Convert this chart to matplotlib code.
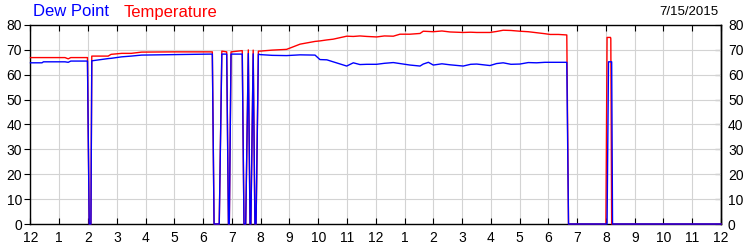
import matplotlib
matplotlib.use("Agg")
import matplotlib.pyplot as plt

plt.rcParams['font.family'] = ['Liberation Sans', 'DejaVu Sans']

# hours since midnight
hours = [0.0, 0.40, 0.45, 1.20, 1.31, 1.40, 1.98, 2.04, 2.10, 2.13, 2.70, 2.80, 3.17, 3.50,
         3.86, 5.00, 6.24, 6.32, 6.38, 6.56, 6.65, 6.82, 6.88, 6.91, 6.97, 7.36, 7.42, 7.48,
         7.57, 7.63, 7.66, 7.74, 7.80, 7.84, 7.92, 7.98, 8.40, 8.90, 9.37, 9.89, 10.06, 10.30,
         10.52, 10.99, 11.22, 11.45, 11.69, 12.03, 12.30, 12.61, 12.84, 13.19, 13.54, 13.65,
         13.83, 14.00, 14.30, 14.58, 15.04, 15.30, 15.51, 15.97, 16.20, 16.43, 16.70, 17.01,
         17.30, 17.59, 17.88, 18.06, 18.35, 18.64, 18.70, 20.00, 20.04, 20.09, 20.16, 20.17,
         20.20, 20.23, 24.0]
temperature = [66.9, 66.9, 66.9, 66.9, 66.4, 66.9, 66.9, 0, 0, 67.5, 67.5, 68.2, 68.6, 68.6,
               69.1, 69.2, 69.2, 69.2, 0, 0, 69.5, 69.2, 0, 0, 69.2, 69.7, 0, 0,
               70.0, 0, 0, 69.9, 0, 0, 69.5, 69.5, 69.9, 70.2, 72.3, 73.4, 73.6, 74.0,
               74.3, 75.5, 75.4, 75.6, 75.4, 75.2, 75.6, 75.5, 76.3, 76.3, 76.6, 77.5,
               77.4, 77.3, 77.6, 77.2, 77.0, 77.1, 77.0, 77.0, 77.4, 77.9, 77.8, 77.5,
               77.3, 76.9, 76.5, 76.2, 76.2, 76.0, 0, 0, 75.0, 75.0, 75.0, 74.5,
               0, 0, 0]
dew_point = [64.8, 64.8, 65.2, 65.2, 65.0, 65.5, 65.5, 0, 0, 65.6, 66.5, 66.6, 67.2, 67.5,
             67.9, 68.1, 68.3, 68.3, 0, 0, 68.3, 68.3, 0, 0, 68.3, 68.3, 0, 0,
             68.5, 0, 0, 68.4, 0, 0, 68.3, 68.1, 67.8, 67.7, 68.0, 67.9, 66.1, 66.0,
             65.2, 63.5, 64.8, 64.1, 64.2, 64.2, 64.6, 64.9, 64.5, 63.9, 63.5, 64.3,
             65.0, 63.9, 64.4, 64.0, 63.5, 64.2, 64.3, 63.7, 64.5, 64.8, 64.2, 64.3,
             64.9, 64.8, 65.0, 65.0, 65.0, 65.0, 0, 0, 0, 65.2, 65.2, 65.2,
             65.2, 0, 0]

x_ticks = list(range(25))
x_labels = ["12", "1", "2", "3", "4", "5", "6", "7", "8", "9", "10", "11",
            "12", "1", "2", "3", "4", "5", "6", "7", "8", "9", "10", "11", "12"]
y_ticks = [0, 10, 20, 30, 40, 50, 60, 70, 80]
date_label = "7/15/2015"

fig = plt.figure(figsize=(7.5, 2.5), dpi=100)
ax = fig.add_axes([30.5 / 750, 1 - 224 / 250, (721 - 30.5) / 750, (224 - 25) / 250])

ax.plot(hours, temperature, color='#ff0000', lw=1.0, zorder=3, clip_on=False)
ax.plot(hours, dew_point, color='#0000ff', lw=1.0, zorder=4, clip_on=False)

ax.set_xlim(0, 24)
ax.set_ylim(0, 80)
ax.set_xticks(x_ticks)
ax.set_xticklabels(x_labels, fontsize=10)
ax.set_yticks(y_ticks)
ax.set_yticklabels([str(v) for v in y_ticks], fontsize=10)
ax.grid(True, color='#d3d3d3', lw=0.8, zorder=0)
ax.set_axisbelow(True)
ax.tick_params(axis='x', direction='in', top=True, bottom=True, length=4, width=0.8, pad=5)
ax.tick_params(axis='y', direction='out', left=True, length=4, width=0.8, pad=2)
for sp in ax.spines.values():
    sp.set_linewidth(1.0)
    sp.set_color('black')

ax2 = ax.secondary_yaxis('right')
ax2.set_yticks(y_ticks)
ax2.set_yticklabels([str(v) for v in y_ticks], fontsize=10)
ax2.tick_params(axis='y', direction='in', length=4, width=0.8, pad=5)
ax2.spines['right'].set_linewidth(1.0)

fig.text(33 / 750, 1 - 12 / 250, "Dew Point", color='#0000ff', fontsize=12, va='center', ha='left')
fig.text(124 / 750, 1 - 12 / 250, "Temperature", color='#ff0000', fontsize=12, va='center', ha='left')
fig.text(718 / 750, 1 - 12 / 250, date_label, color='black', fontsize=9.5, va='center', ha='right')

fig.savefig("out.png", dpi=100)
